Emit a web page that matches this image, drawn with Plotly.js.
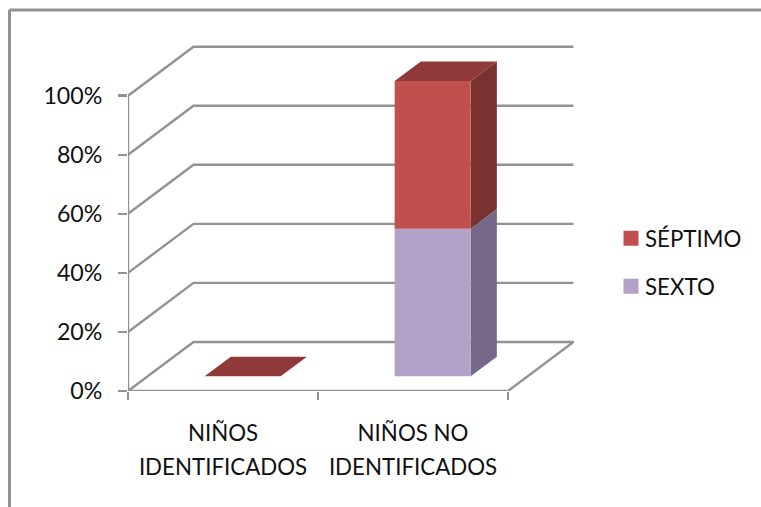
<!DOCTYPE html>
<html>
<head>
<meta charset="utf-8">
<script src="https://cdn.plot.ly/plotly-3.0.1.min.js"></script>
<style>
  html, body { margin: 0; padding: 0; background: #fff; }
  #chart { width: 761px; height: 507px; }
</style>
</head>
<body>
<div id="chart"></div>
<script>
// Stacked share of pupils per group, drawn as oblique 3D columns.
const categories = ['NIÑOS<br>IDENTIFICADOS', 'NIÑOS NO<br>IDENTIFICADOS'];
const sexto = [0, 50];
const septimo = [0, 50];
const yTicks = [0, 20, 40, 60, 80, 100];

const seriesStyles = [
  { name: 'SEXTO', values: sexto, front: '#B3A2C7', side: '#76688A', top: '#8A7BA0' },
  { name: 'SÉPTIMO', values: septimo, front: '#C0504D', side: '#7A3230', top: '#8F3A38' }
];

// Page geometry of the plotting box and the oblique depth vector.
const W = 761, H = 507;
const LEFT = 128, RIGHT = 574, TOP = 45, BOTTOM = 390.7;
const PX_PER_CAT = 190, PX_PER_PCT = 2.95;
const DEPTH_X = 65.5 / PX_PER_CAT, DEPTH_Y = 49 / PX_PER_PCT;
const COL_START = 0.3, COL_END = 0.7, Z_NEAR = 0.3, Z_FAR = 0.7;
const LINE = '#929292';
const FONT = 'Lato, "Open Sans", sans-serif';

// Oblique projection: category position, percent value, depth 0..1.
const project = (x, v, z) => [x + z * DEPTH_X, v + z * DEPTH_Y];

function poly(points, color) {
  const pts = points.map(p => project(p[0], p[1], p[2]));
  return {
    type: 'scatter', mode: 'lines', fill: 'toself', fillcolor: color,
    x: pts.map(p => p[0]), y: pts.map(p => p[1]),
    line: { width: 0, color: color }, hoverinfo: 'skip', showlegend: false, cliponaxis: false
  };
}

function polyline(segments, width) {
  const xs = [], ys = [];
  segments.forEach(seg => {
    seg.forEach(p => { const q = project(p[0], p[1], p[2]); xs.push(q[0]); ys.push(q[1]); });
    xs.push(null); ys.push(null);
  });
  return {
    type: 'scatter', mode: 'lines', x: xs, y: ys,
    line: { color: LINE, width: width }, hoverinfo: 'skip', showlegend: false, cliponaxis: false
  };
}

const n = categories.length;
const traces = [];

// Swatches for the legend, top entry first.
[seriesStyles[1], seriesStyles[0]].forEach(s => {
  traces.push({
    type: 'scatter', mode: 'markers', name: s.name, legendgroup: s.name,
    x: [null], y: [null],
    marker: { symbol: 'square', size: 15, color: s.front }
  });
});

// Wall gridlines, floor outline and the value axis line.
const wall = yTicks.filter(v => v > 0).map(v => [[0, v, 0], [0, v, 1], [n, v, 1]]);
const floor = [[[0, 0, 0], [0, 0, 1], [n, 0, 1], [n, 0, 0], [0, 0, 0]]];
const valueLine = [[[0, 0, 0], [0, yTicks[yTicks.length - 1], 0]]];
traces.push(polyline(wall.concat(floor).concat(valueLine), 2.4));

// Columns, stacked from the bottom series upward.
categories.forEach((_, i) => {
  const x0 = i + COL_START, x1 = i + COL_END;
  let base = 0;
  seriesStyles.forEach((s, k) => {
    const topV = base + s.values[i];
    if (s.values[i] > 0) {
      traces.push(poly([[x1, base, Z_NEAR], [x1, base, Z_FAR], [x1, topV, Z_FAR], [x1, topV, Z_NEAR]], s.side));
      traces.push(poly([[x0, base, Z_NEAR], [x1, base, Z_NEAR], [x1, topV, Z_NEAR], [x0, topV, Z_NEAR]], s.front));
    }
    if (k === seriesStyles.length - 1) {
      traces.push(poly([[x0, topV, Z_NEAR], [x1, topV, Z_NEAR], [x1, topV, Z_FAR], [x0, topV, Z_FAR]], s.top));
    }
    base = topV;
  });
});

const paperX = px => (px - LEFT) / (RIGHT - LEFT);
const paperY = py => (BOTTOM - py) / (BOTTOM - TOP);

// Category labels use a larger base font so the two lines sit further apart.
const wrapLabel = t => t.split('<br>').map(l => '<span style="font-size:22.3px">' + l + '</span>').join('<br>');

const layout = {
  width: W, height: H,
  paper_bgcolor: '#fff', plot_bgcolor: 'rgba(0,0,0,0)',
  margin: { l: LEFT, r: W - RIGHT, t: TOP, b: H - BOTTOM, pad: 0, autoexpand: false },
  font: { family: FONT, size: 22, color: '#111' },
  showlegend: true,
  legend: {
    x: paperX(611), y: paperY(217), xanchor: 'left', yanchor: 'top',
    tracegroupgap: 16, itemwidth: 30, bgcolor: 'rgba(0,0,0,0)',
    font: { family: FONT, size: 22.3, color: '#111' }
  },
  xaxis: {
    range: [0, (RIGHT - LEFT) / PX_PER_CAT], zeroline: false, showgrid: false, showline: false,
    tickmode: 'array', tickvals: categories.map((_, i) => i + 0.5), ticktext: categories.map(wrapLabel),
    tickfont: { family: FONT, size: 26, color: '#111' },
    ticks: '', ticklabelstandoff: 23, tickangle: 0,
    minor: { tickmode: 'array', tickvals: [0, 1, 2], ticks: 'outside', ticklen: 8, tickwidth: 2.5, tickcolor: LINE, showgrid: false }
  },
  yaxis: {
    range: [0, (BOTTOM - TOP) / PX_PER_PCT], zeroline: false, showgrid: false, showline: false,
    tickmode: 'array', tickvals: yTicks, ticktext: yTicks.map(v => v + '%'),
    tickfont: { family: FONT, size: 23.2, color: '#111' },
    ticks: 'outside', ticklen: 9, tickwidth: 2.5, tickcolor: LINE, ticklabelstandoff: 11
  },
  shapes: [
    // Chart frame: only the top and left edges are drawn.
    { type: 'line', xref: 'paper', yref: 'paper', x0: paperX(9.5), x1: paperX(W), y0: paperY(10), y1: paperY(10), line: { color: LINE, width: 3 } },
    { type: 'line', xref: 'paper', yref: 'paper', x0: paperX(9.5), x1: paperX(9.5), y0: paperY(10), y1: paperY(H), line: { color: LINE, width: 3 } }
  ]
};

Plotly.newPlot('chart', traces, layout, { staticPlot: true, displayModeBar: false }).then(() => {
  // Tighten the gap between legend swatches and their labels.
  document.querySelectorAll('#chart .legendtext').forEach(t => {
    t.setAttribute('x', parseFloat(t.getAttribute('x')) - 6);
  });
});
</script>
</body>
</html>
